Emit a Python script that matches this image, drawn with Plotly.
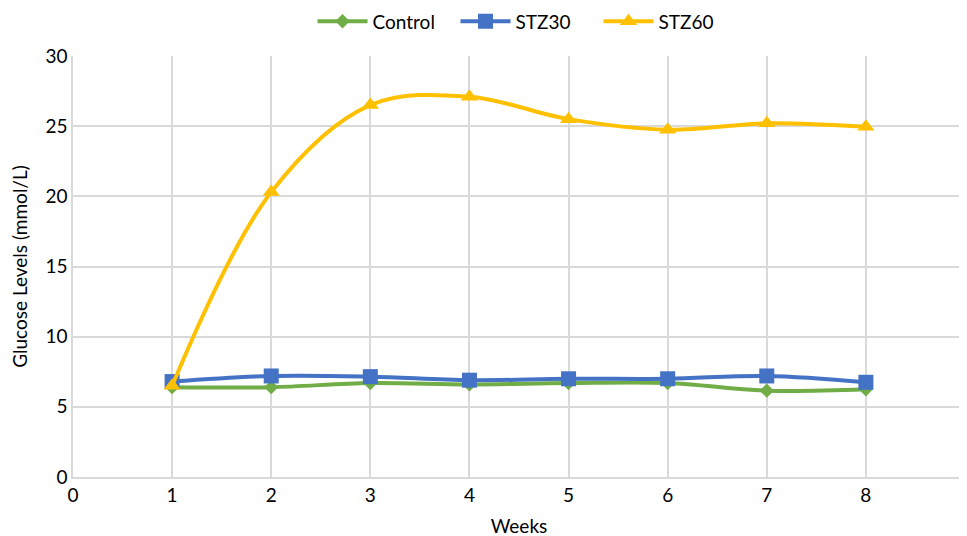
import plotly.graph_objects as go

weeks = [1, 2, 3, 4, 5, 6, 7, 8]
control = [6.4, 6.4, 6.7, 6.6, 6.7, 6.7, 6.15, 6.25]
stz30 = [6.8, 7.2, 7.15, 6.9, 7.0, 7.0, 7.2, 6.75]
stz60 = [6.5, 20.3, 26.5, 27.1, 25.5, 24.75, 25.2, 24.95]

font_family = "Lato, Open Sans, sans-serif"
fs = 19

fig = go.Figure()
series = [
    ("Control", control, "#70AD47", "diamond", 11),
    ("STZ30", stz30, "#4472C4", "square", 15),
    ("STZ60", stz60, "#FFC000", "triangle-up", 15),
]
for name, vals, color, sym, size in series:
    fig.add_trace(go.Scatter(
        x=weeks, y=vals, name=name, mode="lines+markers",
        line=dict(color=color, width=4, shape="spline", smoothing=1.0),
        marker=dict(symbol=sym, size=size, color=color),
    ))

fig.update_layout(
    width=967, height=536,
    margin=dict(l=65, r=10, t=48, b=67, autoexpand=False),
    plot_bgcolor="white", paper_bgcolor="white",
    font=dict(family=font_family, size=fs, color="#000000"),
    legend=dict(orientation="h", x=0.509, xanchor="center", y=0.975, yanchor="middle",
                yref="container", font=dict(size=fs), traceorder="normal",
                itemwidth=50, entrywidth=78, entrywidthmode="pixels"),
    showlegend=True,
)
fig.update_xaxes(
    range=[0, 9], dtick=1, tick0=0, showgrid=True, gridcolor="#d9d9d9", gridwidth=1.5,
    showline=True, linecolor="#d9d9d9", linewidth=1.5, zeroline=False, mirror=False,
    ticks="", automargin=False, title=dict(text="Weeks", font=dict(size=fs), standoff=15),
    tickfont=dict(size=fs),
)
fig.update_yaxes(
    range=[0, 30], dtick=5, showgrid=True, gridcolor="#d9d9d9", gridwidth=1.5,
    showline=True, linecolor="#d9d9d9", linewidth=1.5, zeroline=False,
    ticks="", automargin=False, title=dict(text="Glucose Levels (mmol/L)", font=dict(size=fs), standoff=22),
    tickfont=dict(size=fs),
)

fig.write_html("out.html")
